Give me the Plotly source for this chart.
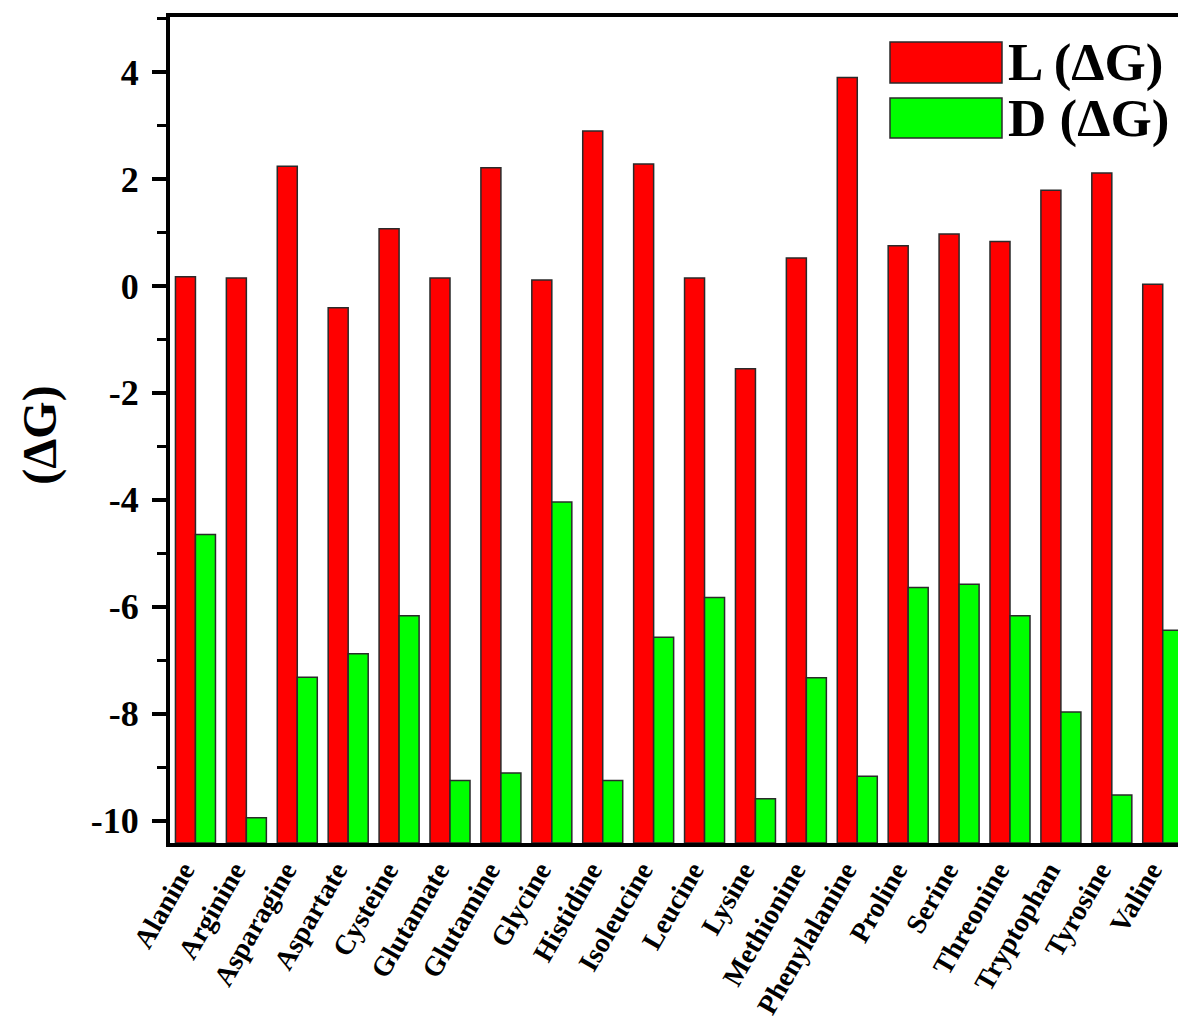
import plotly.graph_objects as go

categories = ["Alanine", "Arginine", "Asparagine", "Aspartate", "Cysteine", "Glutamate",
              "Glutamine", "Glycine", "Histidine", "Isoleucine", "Leucine", "Lysine",
              "Methionine", "Phenylalanine", "Proline", "Serine", "Threonine",
              "Tryptophan", "Tyrosine", "Valine"]
L_dG = [0.17, 0.15, 2.24, -0.41, 1.07, 0.15, 2.21, 0.11, 2.90, 2.28,
        0.15, -1.55, 0.52, 3.90, 0.75, 0.97, 0.83, 1.79, 2.11, 0.03]
D_dG = [-4.65, -9.95, -7.32, -6.88, -6.17, -9.25, -9.11, -4.04, -9.25, -6.57,
        -5.83, -9.59, -7.33, -9.17, -5.64, -5.58, -6.17, -7.97, -9.52, -6.44]
y_ticks = [-10, -8, -6, -4, -2, 0, 2, 4]
y_tick_labels = [str(v) for v in y_ticks]

Y_MIN, Y_MAX = -10.42, 5.03
FONT = "Liberation Serif"
bar_line = dict(color="#2a2a2a", width=1.5)

fig = go.Figure()
fig.add_trace(go.Bar(x=categories, y=[v - Y_MIN for v in L_dG], base=Y_MIN,
                     name="L (ΔG)", marker=dict(color="#FF0000", line=bar_line)))
fig.add_trace(go.Bar(x=categories, y=[v - Y_MIN for v in D_dG], base=Y_MIN,
                     name="D (ΔG)", marker=dict(color="#00FF00", line=bar_line)))

W, H = 1178, 1025
ml, mr, mt, mb = 170, 0, 17, 182
pw, ph = W - ml - mr, H - mt - mb

def px(x):
    return (x - ml) / pw

def py(y):
    return (H - mb - y) / ph

fig.update_layout(
    width=W, height=H,
    margin=dict(l=ml, r=mr, t=mt, b=mb),
    plot_bgcolor="white", paper_bgcolor="white",
    barmode="group", bargap=0.214, bargroupgap=0,
    showlegend=False,
    font=dict(family=FONT, color="black"),
)
fig.update_xaxes(
    range=[-0.5, 19.3],
    showline=True, linecolor="black", linewidth=4, mirror=True,
    ticks="", tickangle=-60,
    tickfont=dict(family=FONT, size=28, weight="bold", color="black"),
    ticklabelshift=-12, ticklabelstandoff=-4,
    showgrid=False,
)
fig.update_yaxes(
    range=[Y_MIN, Y_MAX],
    showline=True, linecolor="black", linewidth=4, mirror=False,
    tickvals=y_ticks, ticktext=y_tick_labels,
    ticks="outside", ticklen=14, tickwidth=4, tickcolor="black",
    minor=dict(dtick=1, tick0=0, ticks="outside", ticklen=9, tickwidth=3, tickcolor="black"),
    tickfont=dict(family=FONT, size=36, weight="bold", color="black"),
    ticklabelstandoff=6,
    showgrid=False, zeroline=False,
)

# y-axis title
fig.add_annotation(text="(ΔG)", xref="paper", yref="paper", x=0, y=0.493,
                   xanchor="center", yanchor="middle",
                   xshift=-130, textangle=-90, showarrow=False,
                   font=dict(family=FONT, size=48, weight="bold", color="black"))

# legend drawn manually (large swatches)
legend_items = [("L (ΔG)", "#FF0000", 42, 83), ("D (ΔG)", "#00FF00", 98, 138)]
for label, color, y0, y1 in legend_items:
    fig.add_shape(type="rect", xref="paper", yref="paper",
                  x0=px(890), x1=px(1002), y0=py(y1), y1=py(y0),
                  fillcolor=color, line=dict(color="#2a2a2a", width=1.5))
    fig.add_annotation(text=label, xref="paper", yref="paper",
                       x=px(1006), y=py((y0 + y1) / 2), xanchor="left", yanchor="middle",
                       showarrow=False,
                       font=dict(family=FONT, size=53, weight="bold", color="black"))

fig.write_html("out.html", config={"displayModeBar": False},
               post_script="document.body.style.margin='0';document.body.style.overflow='hidden';")
